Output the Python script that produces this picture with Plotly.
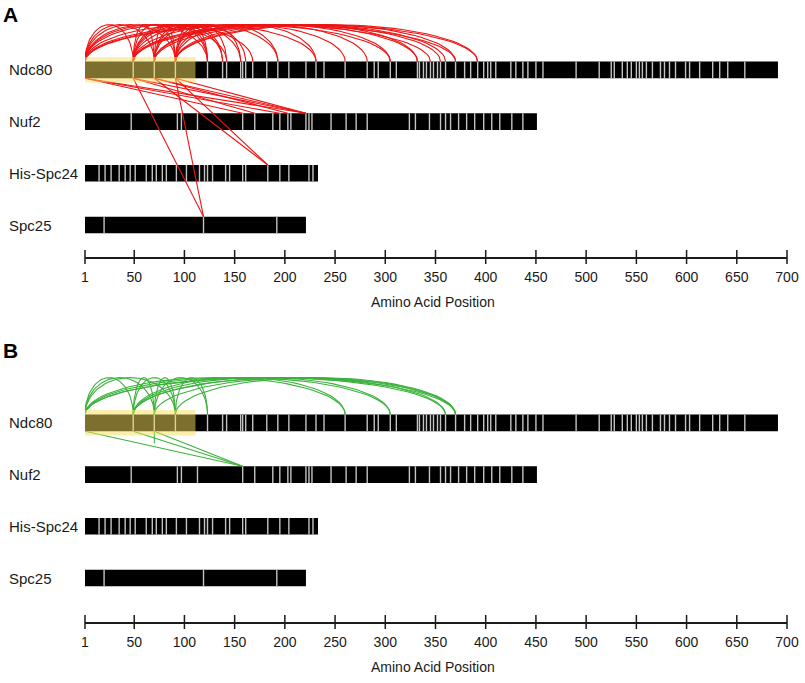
import math
import plotly.graph_objects as go

W, H = 805, 683

# ---------------- data ----------------
proteins = ["Ndc80", "Nuf2", "His-Spc24", "Spc25"]
lengths = [691, 451, 233, 221]
rows = [4, 3, 2, 1]

ndc80_lys = [49, 70, 91, 123, 138, 142, 156, 158, 161, 168, 182, 193, 204, 221, 231,
             239, 260, 282, 289, 293, 305, 311, 332, 334, 338, 341, 345, 348, 352, 355,
             360, 370, 379, 385, 392, 398, 402, 405, 410, 425, 430, 437, 442, 450, 457,
             490, 513, 525, 528, 536, 541, 545, 550, 553, 556, 560, 566, 574, 578, 583,
             589, 599, 603, 613, 626, 633, 641, 658]
nuf2_lys = [47, 93, 97, 113, 158, 170, 188, 195, 203, 206, 221, 224, 227, 246, 261,
            271, 282, 324, 330, 344, 355, 360, 365, 373, 381, 389, 398, 406, 414, 426, 437]
spc24_lys = [15, 21, 27, 35, 41, 46, 51, 62, 68, 72, 78, 82, 92, 102, 115, 120, 123,
             128, 141, 145, 158, 161, 183, 195, 204, 224, 228]
spc25_lys = [20, 119, 192]

tail_region = [1, 111]

# Panel A crosslinks (red)
a_ndc80_ndc80 = [(1, 49), (1, 70), (1, 91), (1, 123), (1, 142), (1, 168), (1, 231), (1, 305),
                 (1, 345), (1, 370), (49, 70), (49, 91), (49, 123), (49, 138), (49, 156),
                 (49, 193), (49, 260), (49, 332), (49, 355), (49, 392), (70, 91), (70, 123),
                 (70, 138), (70, 161), (70, 282), (70, 305), (70, 360), (91, 123), (91, 142),
                 (91, 156), (91, 193), (91, 231), (91, 332), (91, 370), (91, 392)]
a_ndc80_nuf2 = [(1, 221), (1, 195), (1, 158), (49, 221), (49, 170), (70, 221), (70, 203), (91, 221)]
a_ndc80_spc24 = [(70, 183), (91, 183)]
a_ndc80_spc25 = [(49, 119), (91, 119)]

# Panel B crosslinks (green)
b_ndc80_ndc80 = [(1, 49), (1, 70), (1, 91), (1, 260), (1, 305), (1, 360), (1, 370),
                 (49, 70), (49, 91), (49, 260), (49, 305), (49, 360), (49, 370),
                 (70, 91), (70, 123), (70, 370), (91, 123), (91, 370)]
b_ndc80_nuf2 = [(1, 158), (49, 158), (70, 158)]
b_ndc80_self = [70]

tick_vals = [1, 50, 100, 150, 200, 250, 300, 350, 400, 450, 500, 550, 600, 650, 700]
tick_text = [str(v) for v in tick_vals]

# ---------------- geometry ----------------
PX_UNIT = 51.7
HB = 8.3 / PX_UNIT          # bar half height
ARC_H = 37 / PX_UNIT        # arc height
FONT = "Liberation Sans, Arial, sans-serif"
RED = "rgb(238,20,20)"
GREEN = "rgb(60,178,60)"

panels = {
    "A": dict(ax="x", ay="y", axname="xaxis", ayname="yaxis", bottom_px=257, top_px=5,
              spc25_px=225, color=RED, letter_px=15),
    "B": dict(ax="x2", ay="y2", axname="xaxis2", ayname="yaxis2", bottom_px=622, top_px=360,
              spc25_px=578, color=GREEN, letter_px=350),
}
for p in panels.values():
    p["ymin"] = 1 - (p["bottom_px"] - p["spc25_px"]) / PX_UNIT
    p["ymax"] = p["ymin"] + (p["bottom_px"] - p["top_px"]) / PX_UNIT

fig = go.Figure()


def arc_xy(a, b, base):
    xs, ys = [], []
    n = 48
    for i in range(n + 1):
        t = math.pi * i / n
        xs.append((a + b) / 2 - (b - a) / 2 * math.cos(t))
        ys.append(base + ARC_H * math.sin(t))
    return xs, ys


for name, p in panels.items():
    ax, ay = p["ax"], p["ay"]
    # protein bars
    fig.add_trace(go.Bar(orientation="h", y=rows, x=[L - 1 for L in lengths], base=[1] * 4,
                         width=2 * HB, marker=dict(color="black", line=dict(width=0)),
                         xaxis=ax, yaxis=ay, showlegend=False, hoverinfo="skip"))
    # lysine marks
    lx, ly = [], []
    for r, ks in zip(rows, [ndc80_lys, nuf2_lys, spc24_lys, spc25_lys]):
        for k in ks:
            lx += [k, k, None]
            ly += [r - HB, r + HB, None]
    fig.add_trace(go.Scatter(x=lx, y=ly, mode="lines", line=dict(color="#c4c4c4", width=1.4),
                             xaxis=ax, yaxis=ay, showlegend=False, hoverinfo="skip"))

    # crosslinks
    if name == "A":
        intra = a_ndc80_ndc80
        inter = [(a_ndc80_nuf2, 3), (a_ndc80_spc24, 2), (a_ndc80_spc25, 1)]
        selfs = []
    else:
        intra = b_ndc80_ndc80
        inter = [(b_ndc80_nuf2, 3)]
        selfs = b_ndc80_self
    cx, cy = [], []
    for a, b in intra:
        xs, ys = arc_xy(a, b, 4 + HB)
        cx += xs + [None]
        cy += ys + [None]
    for links, r in inter:
        for a, b in links:
            cx += [a, b, None]
            cy += [4 - HB, r + HB, None]
    for k in selfs:
        cx += [k, k, None]
        cy += [4 - HB, 4 - HB - 12 / PX_UNIT, None]
    fig.add_trace(go.Scatter(x=cx, y=cy, mode="lines", line=dict(color=p["color"], width=1.1),
                             xaxis=ax, yaxis=ay, showlegend=False, hoverinfo="skip"))

    # cross tick marks on axis
    fig.add_trace(go.Scatter(x=tick_vals, y=[p["ymin"]] * len(tick_vals), mode="markers",
                             marker=dict(symbol="line-ns", size=10,
                                         line=dict(color="#1a1a1a", width=1.5)),
                             cliponaxis=False, xaxis=ax, yaxis=ay, showlegend=False,
                             hoverinfo="skip"))

    # highlight of N-terminal tail
    fig.add_shape(type="rect", xref=ax, yref=ay, x0=tail_region[0] - 2, x1=tail_region[1],
                  y0=4 - 12.5 / PX_UNIT, y1=4 + 13 / PX_UNIT, layer="above",
                  fillcolor="rgba(250,222,90,0.5)", line=dict(width=0))

    # row labels
    for r, lab in zip(rows, proteins):
        fig.add_annotation(text=lab, xref="paper", x=7 / W, xanchor="left", yref=ay, y=r,
                           yanchor="middle", showarrow=False,
                           font=dict(family=FONT, size=15, color="#1a1a1a"))
    # panel letter
    fig.add_annotation(text="<b>%s</b>" % name, xref="paper", x=1 / W, xanchor="left",
                       yref="paper", y=1 - p["letter_px"] / H, yanchor="middle",
                       showarrow=False, font=dict(family=FONT, size=21, color="black"))
    # axis title
    fig.add_annotation(text="Amino Acid Position", xref="paper", x=433 / W, xanchor="center",
                       yref="paper", y=1 - (p["bottom_px"] + 45) / H, yanchor="middle",
                       showarrow=False, font=dict(family=FONT, size=14, color="#1a1a1a"))

    fig.layout[p["axname"]] = dict(domain=[85 / W, 787 / W], range=[1, 700], anchor=ay,
                                   showline=True, linecolor="#1a1a1a", linewidth=2,
                                   tickmode="array", tickvals=tick_vals, ticktext=tick_text,
                                   ticks="outside", ticklen=6, tickcolor="rgba(0,0,0,0)",
                                   tickfont=dict(family=FONT, size=14, color="#1a1a1a"),
                                   showgrid=False, zeroline=False, fixedrange=True,
                                   automargin=False)
    fig.layout[p["ayname"]] = dict(domain=[1 - p["bottom_px"] / H, 1 - p["top_px"] / H],
                                   range=[p["ymin"], p["ymax"]], anchor=ax, visible=False,
                                   showgrid=False, zeroline=False, fixedrange=True,
                                   automargin=False)

fig.update_layout(template="none", width=W, height=H, margin=dict(l=0, r=0, t=0, b=0, pad=0),
                  paper_bgcolor="white", plot_bgcolor="white", barmode="overlay",
                  showlegend=False, font=dict(family=FONT))

fig.write_html("out.html", config={"displayModeBar": False},
               post_script="document.body.style.margin='0';document.body.style.overflow='hidden';")
